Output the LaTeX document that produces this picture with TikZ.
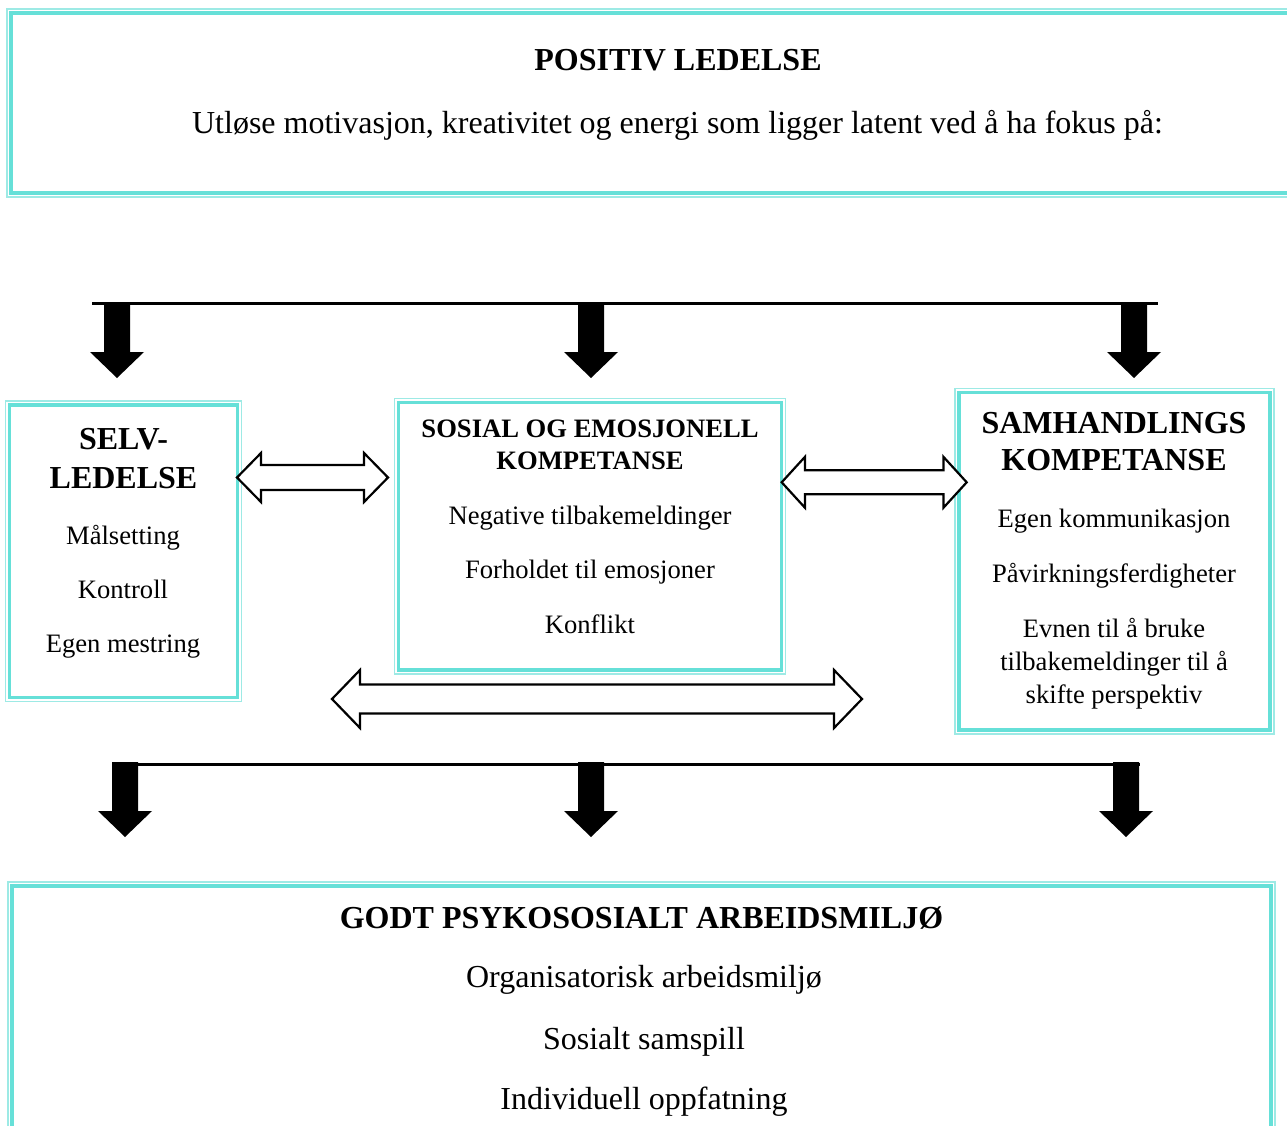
\documentclass[tikz,border=0pt]{standalone}
\usepackage{fontspec}
\setmainfont{Liberation Serif}
\definecolor{turq}{HTML}{66E0D8}
\definecolor{turqlight}{HTML}{9DEAE5}
\tikzset{
  box/.style={draw=turq, line width=3.5pt, inner sep=0pt, outer sep=0pt, fill=none},
  outerline/.style={draw=turqlight, line width=1.3pt},
  sm/.style={font=\fontsize{26.6}{32}\selectfont, inner sep=0pt, anchor=base},
  smb/.style={font=\bfseries\fontsize{26.6}{32}\selectfont, inner sep=0pt, anchor=base},
  lg/.style={font=\fontsize{32}{38}\selectfont, inner sep=0pt, anchor=base},
  lgb/.style={font=\bfseries\fontsize{32}{38}\selectfont, inner sep=0pt, anchor=base},
  bar/.style={draw=black, line width=3pt},
  pics/downarr/.style={code={
    \fill[black] (-13,0) -- (13,0) -- (13,49) -- (27,49) -- (0,75) -- (-27,49) -- (-13,49) -- cycle;}},
  pics/dblarr/.style n args={4}{code={
    \draw[black, line width=2.2pt, fill=white, line join=miter]
      ({-#1},0) -- ({-#1+#4},{-#3}) -- ({-#1+#4},{-#2}) -- ({#1-#4},{-#2}) -- ({#1-#4},{-#3})
      -- ({#1},0) -- ({#1-#4},{#3}) -- ({#1-#4},{#2}) -- ({-#1+#4},{#2}) -- ({-#1+#4},{#3}) -- cycle;}},
}
\begin{document}
\begin{tikzpicture}[x=1pt,y=-1pt]
\useasboundingbox (0,0) rectangle (1287,1126);
\clip (0,0) rectangle (1287,1126);
\fill[white] (0,0) rectangle (1287,1126);

% boxes
\node[box, minimum width=1289pt, minimum height=180pt] (top) at (655.5,103) {};
\node[box, minimum width=228pt, minimum height=292.5pt] (left) at (123.5,551.25) {};
\node[box, minimum width=383pt, minimum height=267.5pt] (mid) at (590,536.25) {};
\node[box, minimum width=311pt, minimum height=337.7pt] (right) at (1114.5,561.15) {};
\node[box, minimum width=1259pt, minimum height=264pt] (bottom) at (641.5,1018) {};
\foreach \n in {top,left,mid,right,bottom}
  \draw[outerline] ([shift={(-4,-4)}]\n.north west) rectangle ([shift={(4,4)}]\n.south east);

% top box text
\node[lgb] (t1) at (678,71) {POSITIV LEDELSE};
\node[lg] (t2) at (677.5,134) {Utløse motivasjon, kreativitet og energi som ligger latent ved å ha fokus på:};

% left box text
\node[lgb] (l1) at (123.5,449.3) {SELV-};
\node[lgb] (l2) at (123.5,488.3) {LEDELSE};
\node[sm] (l3) at (123,544) {Målsetting};
\node[sm] (l4) at (123,598.3) {Kontroll};
\node[sm] (l5) at (123,652.3) {Egen mestring};

% middle box text
\node[smb] (m1) at (590,437.3) {SOSIAL OG EMOSJONELL};
\node[smb] (m2) at (590,469) {KOMPETANSE};
\node[sm] (m3) at (590,524.3) {Negative tilbakemeldinger};
\node[sm] (m4) at (590,578.3) {Forholdet til emosjoner};
\node[sm] (m5) at (590,633) {Konflikt};

% right box text
\node[lgb] (r1) at (1114,433.3) {SAMHANDLINGS};
\node[lgb] (r2) at (1114,470.7) {KOMPETANSE};
\node[sm] (r3) at (1114,527.7) {Egen kommunikasjon};
\node[sm] (r4) at (1114,582) {Påvirkningsferdigheter};
\node[sm] (r5) at (1114,637.7) {Evnen til å bruke};
\node[sm] (r6) at (1114,670.3) {tilbakemeldinger til å};
\node[sm] (r7) at (1114,703.7) {skifte perspektiv};

% bottom box text
\node[lgb] (b1) at (641.5,928) {GODT PSYKOSOSIALT ARBEIDSMILJØ};
\node[lg] (b2) at (644,987) {Organisatorisk arbeidsmiljø};
\node[lg] (b3) at (644,1049) {Sosialt samspill};
\node[lg] (b4) at (644,1109) {Individuell oppfatning};

% top distribution bar and arrows
\coordinate (tbl) at (92,303);
\coordinate (tbr) at (1158,303);
\draw[bar] (tbl) -- (tbr);
\coordinate (ta1) at (117,303);
\coordinate (ta2) at (591,303);
\coordinate (ta3) at (1134,303);
\pic at (ta1) {downarr};
\pic at (ta2) {downarr};
\pic at (ta3) {downarr};

% double arrows
\coordinate (da1) at (312.5,477.5);
\coordinate (da2) at (874.2,482.3);
\coordinate (da3) at (597,699);
\pic at (da1) {dblarr={75.5}{12.5}{24.5}{24}};
\pic at (da2) {dblarr={92.5}{12}{25.5}{23.3}};
\pic at (da3) {dblarr={265}{14.5}{29}{28}};

% bottom bar and arrows
\coordinate (bbl) at (125,764.5);
\coordinate (bbr) at (1140,764.5);
\draw[bar] (bbl) -- (bbr);
\coordinate (ba1) at (125,762);
\coordinate (ba2) at (591,762);
\coordinate (ba3) at (1126,762);
\pic at (ba1) {downarr};
\pic at (ba2) {downarr};
\pic at (ba3) {downarr};
\end{tikzpicture}
\end{document}
